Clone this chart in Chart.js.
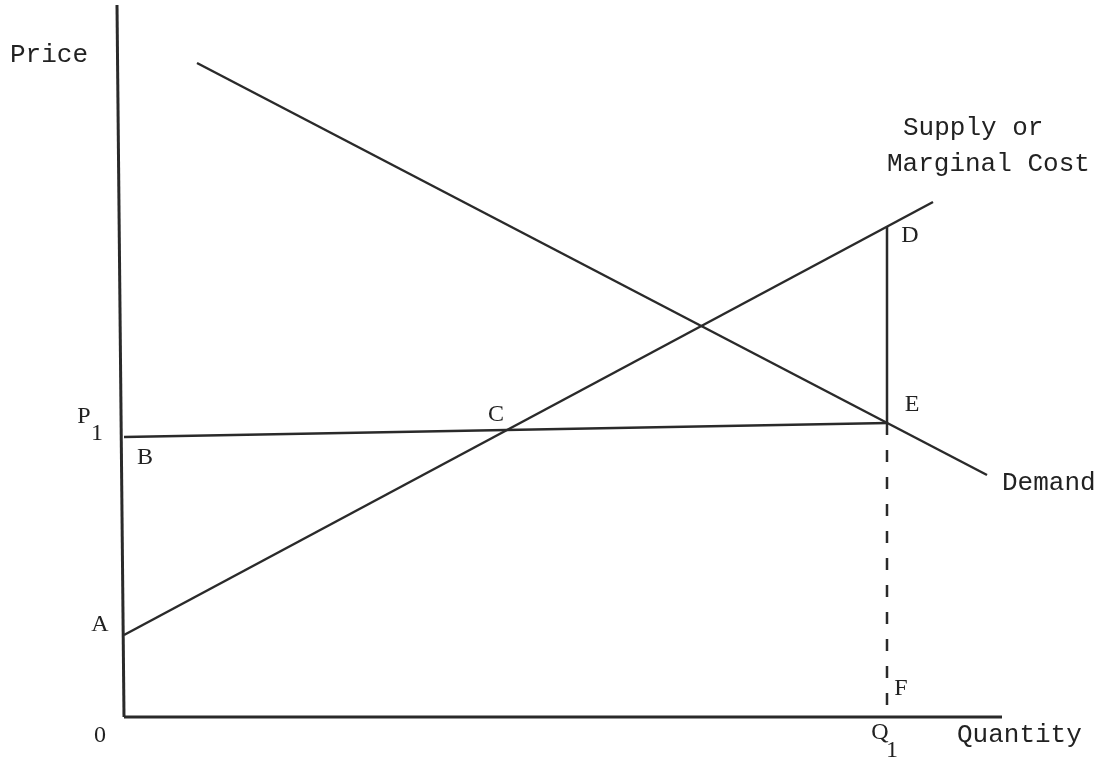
<!DOCTYPE html>
<html>
<head>
<meta charset="utf-8">
<script src="https://cdn.jsdelivr.net/npm/chart.js@4.4.1/dist/chart.umd.min.js"></script>
<style>
  html, body { margin: 0; padding: 0; background: #fff; }
  #wrap { width: 1101px; height: 761px; }
</style>
</head>
<body>
<div id="wrap"><canvas id="chart"></canvas></div>
<script>
// quantity / price pairs of each curve (arbitrary units)
const demandQ = [73, 863]
const demandP = [654, 242]
const supplyQ = [0, 809]
const supplyP = [82, 515]
const priceLineQ = [0, 764]   // P1 line, B -> E
const priceLineP = [280, 294]
const segDEQ = [763, 763]
const segDEP = [490, 294]
const segEFQ = [763, 763]
const segEFP = [294, 0]
const axisYQ = [-7, 0]
const axisYP = [712, 0]
const axisXQ = [0, 878]
const axisXP = [0, 0]

// text labels: [text, q, p, font, align]
const mono = '26px "Liberation Mono", monospace'
const serif = '24px "Liberation Serif", serif'
const labels = [
  ['Price', -114, 662, mono, 'left'],
  ['Supply or', 779, 589, mono, 'left'],
  ['Marginal Cost', 763, 553, mono, 'left'],
  ['Demand', 878, 234, mono, 'left'],
  ['Quantity', 833, -18, mono, 'left'],
  ['D', 786, 481, serif, 'center'],
  ['E', 788, 312, serif, 'center'],
  ['C', 372, 302, serif, 'center'],
  ['P', -40, 300, serif, 'center'],
  ['1', -27, 283, serif, 'center'],
  ['B', 21, 259, serif, 'center'],
  ['A', -24, 92, serif, 'center'],
  ['0', -24, -19, serif, 'center'],
  ['F', 777, 28, serif, 'center'],
  ['Q', 756, -16, serif, 'center'],
  ['1', 768, -34, serif, 'center']
]

const pts = (qs, ps) => qs.map((q, i) => ({ x: q, y: ps[i] }))
const ink = '#2a2a2a'

function line(data, width, dash) {
  return {
    data: data,
    showLine: true,
    borderColor: ink,
    borderWidth: width,
    borderDash: dash || [],
    pointRadius: 0,
    fill: false,
    clip: false
  }
}

const labelPlugin = {
  id: 'labels',
  afterDatasetsDraw(chart) {
    const ctx = chart.ctx
    const xs = chart.scales.x
    const ys = chart.scales.y
    ctx.save()
    ctx.fillStyle = '#222'
    ctx.textBaseline = 'middle'
    labels.forEach(([text, q, p, font, align]) => {
      ctx.font = font
      ctx.textAlign = align
      ctx.fillText(text, xs.getPixelForValue(q), ys.getPixelForValue(p))
    })
    ctx.restore()
  }
}

new Chart(document.getElementById('chart'), {
  type: 'scatter',
  data: {
    datasets: [
      line(pts(axisYQ, axisYP), 3),
      line(pts(axisXQ, axisXP), 3),
      line(pts(demandQ, demandP), 2.5),
      line(pts(supplyQ, supplyP), 2.5),
      line(pts(priceLineQ, priceLineP), 2.5),
      line(pts(segDEQ, segDEP), 2.5),
      line(pts(segEFQ, segEFP), 2.5, [12, 15])
    ]
  },
  options: {
    responsive: true,
    maintainAspectRatio: false,
    animation: false,
    layout: { padding: { left: 124, top: 5, right: 99, bottom: 44 } },
    plugins: {
      legend: { display: false },
      tooltip: { enabled: false }
    },
    scales: {
      x: { type: 'linear', min: 0, max: 878, display: false },
      y: { type: 'linear', min: 0, max: 712, display: false }
    }
  },
  plugins: [labelPlugin]
})
</script>
</body>
</html>
